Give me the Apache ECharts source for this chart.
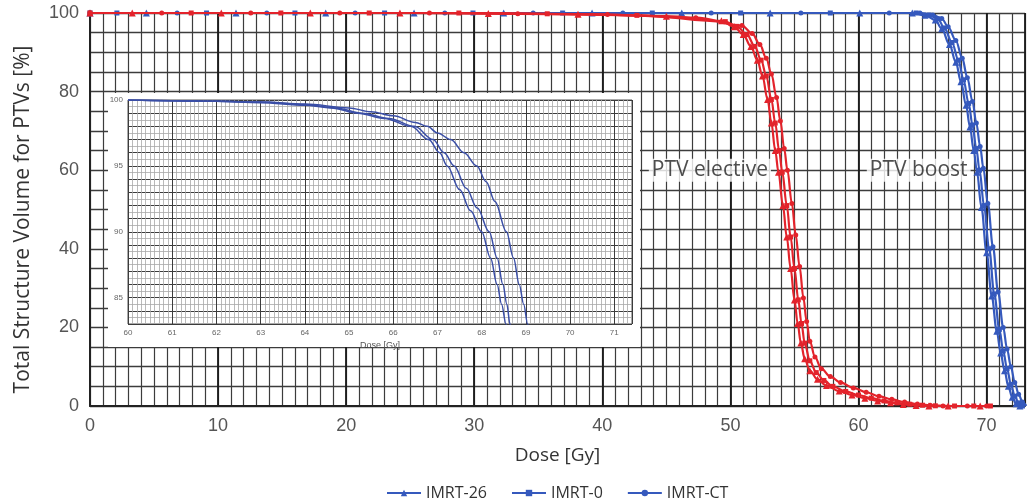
<!DOCTYPE html>
<html>
<head>
<meta charset="utf-8">
<script src="https://cdn.jsdelivr.net/npm/echarts@6/dist/echarts.min.js"></script>
<style>
  html, body { margin: 0; padding: 0; background: #ffffff; }
  #chart { width: 1028px; height: 503px; }
</style>
</head>
<body>
<div id="chart"></div>
<script>
// Treatment plans shown in the legend, with their marker shapes
const planNames = ['IMRT-26', 'IMRT-0', 'IMRT-CT'];
const planSymbols = ['triangle', 'rect', 'circle'];

// Axis tick labels
const doseTicks = [0, 10, 20, 30, 40, 50, 60, 70];
const volumeTicks = [0, 20, 40, 60, 80, 100];
const zoomDoseTicks = [60, 61, 62, 63, 64, 65, 66, 67, 68, 69, 70, 71];
const zoomVolumeTicks = [85, 90, 95, 100];

// PTV boost DVH curves: [dose Gy, volume %]
const boost26 = [[0,100],[4.4,100],[11.4,100],[18.4,100],[25.3,100],[32.3,100],[39.2,100],[46.2,100],[53.1,100],[60.1,100],
  [64.2,100],[65.2,99.4],[66.0,98.2],[66.5,96],[67.1,92],[67.6,87.5],[68.0,82.5],[68.4,76.5],[68.7,71],[69.0,65],[69.25,59.5],
  [69.6,50.5],[70.0,39],[70.4,28],[70.8,19],[71.1,13.5],[71.4,9],[71.7,5],[72.0,2.2],[72.3,0.6],[72.6,0]];
const boost0 = [[0,100],[2.1,100],[9.1,100],[16.0,100],[23.0,100],[29.9,100],[36.9,100],[43.9,100],[50.8,100],[57.8,100],
  [64.5,100],[65.5,99.5],[66.2,98.5],[66.7,96.2],[67.3,92.5],[67.8,88],[68.2,83],[68.6,77],[68.9,71.5],[69.2,65.5],[69.45,60],
  [69.8,51],[70.2,40],[70.6,28.5],[71.0,19.5],[71.3,14],[71.6,9.5],[71.9,5.5],[72.2,2.5],[72.5,0.8],[72.8,0]];
const boostCT = [[0,100],[6.8,100],[13.8,100],[20.7,100],[27.7,100],[34.6,100],[41.6,100],[48.5,100],[55.5,100],[62.4,100],
  [64.8,100],[65.8,99.5],[66.5,98.6],[67.0,96.5],[67.6,93],[68.1,88.5],[68.5,83.5],[68.9,77.5],[69.2,72],[69.5,66],[69.75,60.5],
  [70.1,51.5],[70.5,40.5],[70.9,29],[71.3,20],[71.6,14.5],[71.9,10],[72.2,6],[72.5,3],[72.8,1],[73.1,0]];

// PTV elective DVH curves: [dose Gy, volume %]
const elective26 = [[0,100],[3.3,100],[10.25,100],[17.2,100],[24.2,100],[31.1,99.9],[38.1,99.7],[45.0,99.2],
  [49.3,98],[50.3,96.5],[51.0,94.5],[51.6,91.5],[52.1,88],[52.5,84],[52.9,78],[53.2,72],[53.5,65],[53.75,59.5],[54.1,51],
  [54.4,43],[54.7,35],[55.0,27],[55.25,21],[55.5,16],[55.8,12],[56.2,9],[56.8,6.8],[57.5,5.2],[58.5,3.8],[59.5,2.8],
  [60.5,2.0],[61.5,1.3],[62.5,0.8],[63.5,0.4],[64.5,0.15],[65.5,0],[67,0],[69.5,0]];
const elective0 = [[0,100],[7.9,100],[14.9,100],[21.8,100],[28.8,100],[35.7,99.8],[42.7,99.4],[49.6,97.8],
  [50.5,96.6],[51.3,94.5],[51.9,91.5],[52.4,88],[52.8,84],[53.2,78],[53.5,72],[53.8,65],[54.05,59.5],[54.4,51],
  [54.7,43],[55.0,35],[55.3,27],[55.55,21],[55.8,16],[56.2,11.5],[56.7,8.5],[57.3,6.5],[58,5],[59,3.7],[60,2.8],
  [61,2.0],[62,1.3],[63,0.8],[64,0.45],[65,0.2],[66,0.05],[67.5,0],[69,0],[70.3,0]];
const electiveCT = [[0,100],[5.6,100],[12.55,100],[19.5,100],[26.5,100],[33.4,99.8],[40.4,99.6],[47.3,98.8],
  [50.9,96.8],[51.7,94.8],[52.3,92],[52.8,88.5],[53.2,84.5],[53.6,78.5],[53.9,72.5],[54.2,65.5],[54.45,60],[54.8,51.5],
  [55.1,43.5],[55.4,35.5],[55.7,27.5],[55.95,21.5],[56.2,16.5],[56.6,12.5],[57.1,9.5],[57.8,7.5],[58.6,6],[59.6,4.6],
  [60.6,3.5],[61.6,2.5],[62.6,1.7],[63.6,1.0],[64.6,0.5],[65.6,0.2],[66.6,0],[68.5,0],[70,0]];

// Close-up of the PTV boost shoulder (60-71.4 Gy): [dose Gy, volume %]
const zoom26 = [[60,100],[61,99.95],[62,99.9],[63,99.8],[64,99.6],[64.6,99.4],[65.2,99.0],[65.8,98.6],[66.4,98],[66.8,97],
  [67.05,96],[67.22,95],[67.5,93.2],[67.75,91.6],[68.0,90],[68.2,88],[68.35,86],[68.45,84.5],[68.55,83],[68.6,82]];
const zoom0 = [[60,100],[61,99.95],[62,99.9],[63,99.85],[64,99.65],[64.7,99.4],[65.3,99.0],[65.9,98.6],[66.48,98],[66.9,97],
  [67.15,96],[67.38,95],[67.65,93.3],[67.9,91.8],[68.17,90],[68.35,88],[68.48,86],[68.57,84.5],[68.64,83],[68.7,82]];
const zoomCT = [[60,100],[61,99.95],[62,99.9],[63,99.85],[64,99.7],[65,99.4],[65.5,99.1],[66,98.8],[66.5,98.3],[66.77,98],
  [67.0,97.5],[67.3,97],[67.6,96],[67.89,95],[68.1,93.8],[68.3,92.3],[68.56,90],[68.72,88],[68.85,86],[68.95,84.5],[69.04,83],[69.1,82]];

// Structure labels placed at [dose, volume]
const structureLabels = [
  { text: 'PTV elective', dose: 48.4, volume: 60 },
  { text: 'PTV boost', dose: 64.7, volume: 60 }
];

const RED = '#e3232b';
const BLUE = '#3559bd';
const ZOOM_BLUE = '#3a4ea6';
const tickFont = 'Liberation Sans, Arial, sans-serif';
const textFont = 'Open Sans, Noto Sans, sans-serif';

const boostSets = [boost26, boost0, boostCT];
const electiveSets = [elective26, elective0, electiveCT];
const zoomSets = [zoom26, zoom0, zoomCT];

function pick(list) {
  return function (v) {
    for (const t of list) { if (Math.abs(v - t) < 1e-6) return String(t); }
    return '';
  };
}

const series = [];
planNames.forEach((name, i) => {
  series.push({
    name: name, type: 'line', xAxisIndex: 0, yAxisIndex: 0, z: 5,
    data: boostSets[i], smooth: 0.35, smoothMonotone: 'x',
    symbol: planSymbols[i], symbolSize: i === 0 ? 7 : 5, showSymbol: true,
    lineStyle: { color: BLUE, width: 2.2 }, itemStyle: { color: BLUE },
    emphasis: { disabled: true }, animation: false
  });
});
planNames.forEach((name, i) => {
  series.push({
    name: name, type: 'line', xAxisIndex: 0, yAxisIndex: 0, z: 6,
    data: electiveSets[i], smooth: 0.35, smoothMonotone: 'x',
    symbol: planSymbols[i], symbolSize: i === 0 ? 7 : 5, showSymbol: true,
    lineStyle: { color: RED, width: 2.2 }, itemStyle: { color: RED },
    emphasis: { disabled: true }, animation: false
  });
});
planNames.forEach((name, i) => {
  series.push({
    name: name + ' (60-71 Gy)', type: 'line', xAxisIndex: 3, yAxisIndex: 2, z: 4,
    data: zoomSets[i], smooth: 0.35, smoothMonotone: 'x', showSymbol: false,
    lineStyle: { color: ZOOM_BLUE, width: 1.5 },
    emphasis: { disabled: true }, animation: false
  });
});
series.push({
  name: 'labels', type: 'scatter', xAxisIndex: 0, yAxisIndex: 0, z: 8,
  symbolSize: 0, silent: true, animation: false,
  data: structureLabels.map(d => ({ name: d.text, value: [d.dose, d.volume] })),
  label: {
    show: true, position: 'inside', formatter: '{b}',
    fontFamily: textFont, fontSize: 21, color: '#222',
    backgroundColor: '#ffffff', padding: [1, 3]
  }
});

const chart = echarts.init(document.getElementById('chart'), null, { renderer: 'canvas' });
chart.setOption({
  backgroundColor: '#ffffff',
  animation: false,
  grid: [
    { left: 90, top: 13, width: 944, height: 393 },
    { left: 128, top: 100, width: 504, height: 224, show: true, borderColor: '#555', borderWidth: 1, z: 3 }
  ],
  legend: {
    data: planNames, left: 381, top: 480,
    itemWidth: 34, itemHeight: 8, itemGap: 24,
    textStyle: { fontFamily: textFont, fontSize: 16, color: '#333' }
  },
  graphic: [{
    type: 'rect', z: 1, silent: true,
    shape: { x: 108, y: 93, width: 532, height: 254 },
    style: { fill: '#ffffff' }
  }],
  xAxis: [
    { // main dose axis, 1 Gy grid
      gridIndex: 0, type: 'value', position: 'bottom', min: 0, max: 73, interval: 1, z: 0,
      axisLine: { show: true, lineStyle: { color: '#222', width: 2 } },
      axisTick: { show: false },
      axisLabel: { formatter: pick(doseTicks), fontFamily: tickFont, fontSize: 18, color: '#555', margin: 11 },
      splitLine: { show: true, lineStyle: { color: '#3c3c3c', width: 1.2 } },
      name: 'Dose [Gy]', nameLocation: 'middle', nameGap: 40,
      nameTextStyle: { fontFamily: textFont, fontSize: 19, color: '#333' }
    },
    { // main dose axis, 10 Gy grid
      gridIndex: 0, type: 'value', position: 'bottom', min: 0, max: 73, interval: 10, z: 0,
      axisLine: { show: false }, axisTick: { show: false }, axisLabel: { show: false },
      splitLine: { show: true, lineStyle: { color: '#1a1a1a', width: 1.8 } }
    },
    { // close-up, 0.1 Gy grid
      gridIndex: 1, type: 'value', position: 'bottom', min: 60, max: 71.4, interval: 0.1, z: 3,
      axisLine: { show: false }, axisTick: { show: false }, axisLabel: { show: false },
      splitLine: { show: true, lineStyle: { color: '#a8a8a8', width: 0.8 } }
    },
    { // close-up, 1 Gy grid with labels
      gridIndex: 1, type: 'value', position: 'bottom', min: 60, max: 71.4, interval: 1, z: 3,
      axisLine: { show: false }, axisTick: { show: false },
      axisLabel: { formatter: pick(zoomDoseTicks), fontFamily: tickFont, fontSize: 8, color: '#666', margin: 5 },
      splitLine: { show: true, lineStyle: { color: '#3c3c3c', width: 1 } },
      name: 'Dose [Gy]', nameLocation: 'middle', nameGap: 17,
      nameTextStyle: { fontFamily: tickFont, fontSize: 9, color: '#555' }
    }
  ],
  yAxis: [
    { // main volume axis
      gridIndex: 0, type: 'value', position: 'left', min: 0, max: 100, interval: 5, z: 0,
      axisLine: { show: true, lineStyle: { color: '#222', width: 2 } },
      axisTick: { show: false },
      axisLabel: { formatter: pick(volumeTicks), fontFamily: tickFont, fontSize: 18, color: '#555', margin: 11 },
      splitLine: { show: true, lineStyle: { color: '#3c3c3c', width: 1.3 } },
      name: 'Total Structure Volume for PTVs [%]', nameLocation: 'middle', nameGap: 56,
      nameTextStyle: { fontFamily: textFont, fontSize: 21, color: '#333', padding: [0, 20, 0, 0] }
    },
    { // close-up, 0.5 % grid
      gridIndex: 1, type: 'value', position: 'left', min: 83, max: 100, interval: 0.5, z: 3,
      axisLine: { show: false }, axisTick: { show: false }, axisLabel: { show: false },
      splitLine: { show: true, lineStyle: { color: '#a8a8a8', width: 0.8 } }
    },
    { // close-up, 1 % grid with labels
      gridIndex: 1, type: 'value', position: 'left', min: 83, max: 100, interval: 1, z: 3,
      axisLine: { show: false }, axisTick: { show: false },
      axisLabel: { formatter: pick(zoomVolumeTicks), fontFamily: tickFont, fontSize: 8, color: '#666', margin: 5 },
      splitLine: { show: true, lineStyle: { color: '#3c3c3c', width: 1 } }
    }
  ],
  series: series
});
</script>
</body>
</html>
